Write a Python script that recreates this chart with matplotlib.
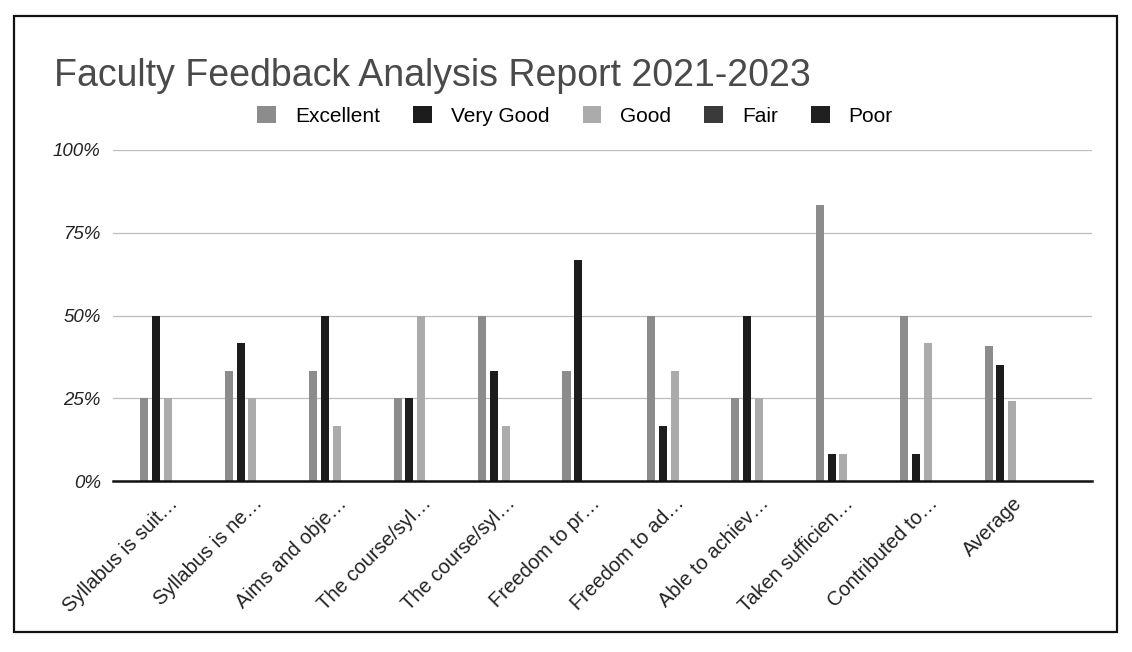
import matplotlib
matplotlib.use("Agg")
import matplotlib.pyplot as plt
import numpy as np
from matplotlib.patches import Rectangle

plt.rcParams['font.family'] = ['Liberation Sans', 'DejaVu Sans']

categories = ["Syllabus is suit…", "Syllabus is ne…", "Aims and obje…", "The course/syl…",
              "The course/syl…", "Freedom to pr…", "Freedom to ad…", "Able to achiev…",
              "Taken sufficien…", "Contributed to…", "Average"]
series = ["Excellent", "Very Good", "Good", "Fair", "Poor"]
excellent = [25.0, 33.3, 33.3, 25.0, 50.0, 33.3, 50.0, 25.0, 83.3, 50.0, 40.8]
very_good = [50.0, 41.7, 50.0, 25.0, 33.3, 66.7, 16.7, 50.0, 8.3, 8.3, 35.0]
good = [25.0, 25.0, 16.7, 50.0, 16.7, 0.0, 33.3, 25.0, 8.3, 41.7, 24.2]
fair = [0, 0, 0, 0, 0, 0, 0, 0, 0, 0, 0]
poor = [0, 0, 0, 0, 0, 0, 0, 0, 0, 0, 0]
colors = ["#8c8c8c", "#1c1c1c", "#ababab", "#3a3a3a", "#202020"]

fig = plt.figure(figsize=(11.32, 6.52), dpi=100)
ax = fig.add_axes([0.100, 0.262, 0.865, 0.508])

x = np.arange(len(categories))
step = 0.14
width = 0.095
for i, (name, vals) in enumerate(zip(series, [excellent, very_good, good, fair, poor])):
    ax.bar(x + (i - 2) * step, vals, width=width, color=colors[i], label=name, zorder=3)

ax.set_ylim(0, 100)
ax.set_xlim(-0.65, 10.95)
ax.set_yticks([0, 25, 50, 75, 100])
ax.set_yticklabels(["0%", "25%", "50%", "75%", "100%"], fontsize=13.5, style='italic', color="#222222")
ax.set_xticks(x)
ax.set_xticklabels(categories, rotation=45, ha='right', rotation_mode='anchor', fontsize=14.5, color="#222222")
ax.tick_params(axis='both', length=0, pad=9)
ax.grid(axis='y', color="#bdbdbd", linewidth=0.9, zorder=0)
for s in ["top", "right", "left"]:
    ax.spines[s].set_visible(False)
ax.spines["bottom"].set_color("#111111")
ax.spines["bottom"].set_linewidth(1.8)
ax.spines["bottom"].set_zorder(4)

fig.text(0.048, 0.884, "Faculty Feedback Analysis Report 2021-2023", fontsize=27, color="#4a4a4a",
         ha='left', va='center')
fig.legend(loc='center', bbox_to_anchor=(0.508, 0.822), ncol=5, frameon=False, fontsize=15,
           handlelength=0.9, handleheight=0.9, handletextpad=0.9, columnspacing=1.6)

fig.patches.append(Rectangle((0.012, 0.03), 0.975, 0.945, transform=fig.transFigure,
                             fill=False, edgecolor="#111111", linewidth=1.6))

fig.savefig("out.png", dpi=100)
